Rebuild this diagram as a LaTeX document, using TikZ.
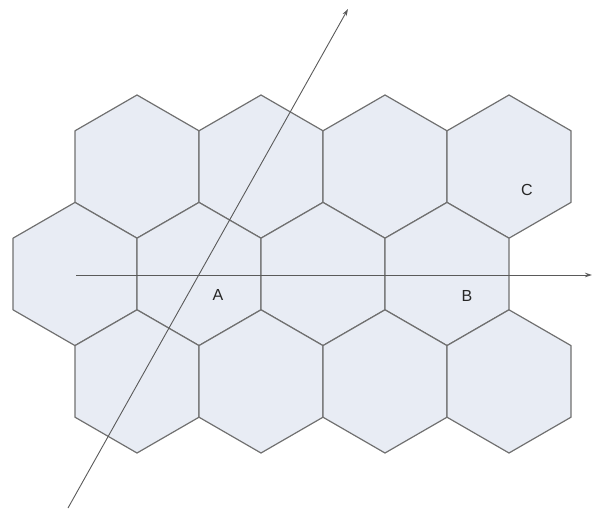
\documentclass[tikz,border=0pt]{standalone}
\usepackage{fontspec}
\setmainfont{Liberation Sans}
\usetikzlibrary{arrows.meta}
\definecolor{hexfill}{HTML}{E8ECF4}
\definecolor{hexedge}{HTML}{707070}
\definecolor{raycol}{HTML}{5A5A5A}
\begin{document}
\begin{tikzpicture}[x=1pt,y=-1pt,
  hexcell/.style={fill=hexfill,draw=hexedge,line width=1.2pt,line join=round},
  ray/.style={draw=raycol,line width=0.9pt,-{Stealth[length=7pt,width=4.5pt]}},
  lbl/.style={font=\fontsize{16}{19}\selectfont,text=black!85,inner sep=0pt}]
\useasboundingbox (0,0) rectangle (592,511);
\pgfmathsetmacro{\R}{71.6}
\pgfmathsetmacro{\hw}{62.0}
% hexagon centres: top row, middle row, bottom row
\foreach \cx/\cy in {137/166.6,261/166.6,385/166.6,509/166.6,
                     75/274,199/274,323/274,447/274,
                     137/381.4,261/381.4,385/381.4,509/381.4}{
  \path[hexcell] (\cx,\cy-\R) -- (\cx+\hw,\cy-\R/2) -- (\cx+\hw,\cy+\R/2)
     -- (\cx,\cy+\R) -- (\cx-\hw,\cy+\R/2) -- (\cx-\hw,\cy-\R/2) -- cycle;
}
\coordinate (h0) at (76,275);
\coordinate (h1) at (592,275);
\coordinate (d0) at (68,508);
\coordinate (d1) at (348,9);
\draw[ray] (h0) -- (h1);
\draw[ray] (d0) -- (d1);
\node[lbl] (A) at (218,295) {A};
\node[lbl] (B) at (467,296) {B};
\node[lbl] (C) at (527,190) {C};
\end{tikzpicture}
\end{document}
